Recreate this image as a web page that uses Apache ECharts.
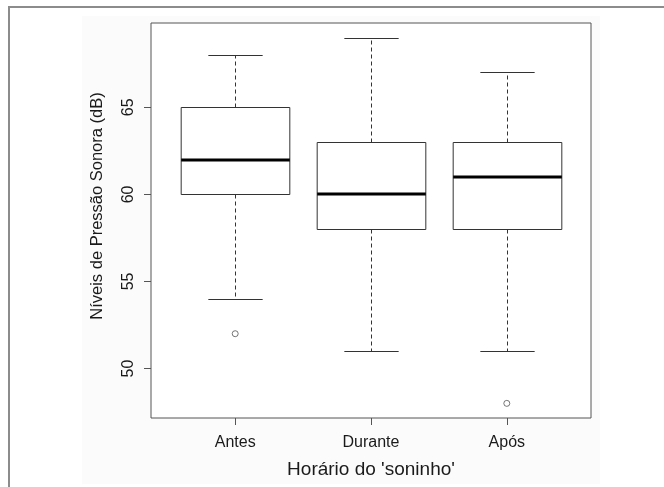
<!DOCTYPE html>
<html>
<head>
<meta charset="utf-8">
<script src="https://cdn.jsdelivr.net/npm/echarts@6/dist/echarts.min.js"></script>
<style>html,body{margin:0;padding:0;background:#fff;}#c{width:664px;height:487px;}</style>
</head>
<body>
<div id="c"></div>
<script>
const categories = ['Antes', 'Durante', 'Após'];
const whiskerLow = [54, 51, 51];
const q1 = [60, 58, 58];
const median = [62, 60, 61];
const q3 = [65, 63, 63];
const whiskerHigh = [68, 69, 67];
const outlierGroup = [1, 3];
const outlierValue = [52, 48];
const yTicks = [50, 55, 60, 65];
const xTitle = "Horário do 'soninho'";
const yTitle = 'Níveis de Pressão Sonora (dB)';

const FONT = '"Liberation Sans", Arial, sans-serif';
const LINE = '#333';

const boxData = categories.map((c, i) => [i + 1, whiskerLow[i], q1[i], median[i], q3[i], whiskerHigh[i]]);
const outData = outlierGroup.map((g, i) => [g, outlierValue[i]]);

function renderBox(params, api) {
  const x = api.value(0);
  const lo = api.coord([x, api.value(1)]);
  const b1 = api.coord([x, api.value(2)]);
  const md = api.coord([x, api.value(3)]);
  const b3 = api.coord([x, api.value(4)]);
  const hi = api.coord([x, api.value(5)]);
  const hw = api.size([0.4, 0])[0];
  const cw = api.size([0.2, 0])[0];
  const cx = Math.round(lo[0]) + 0.5;
  const r = v => Math.round(v) + 0.5;
  const thin = { stroke: LINE, lineWidth: 1, fill: null };
  return {
    type: 'group',
    children: [
      { type: 'line', shape: { x1: cx, y1: r(b3[1]), x2: cx, y2: r(hi[1]) }, style: { stroke: LINE, lineWidth: 1, lineDash: [4, 3] } },
      { type: 'line', shape: { x1: cx, y1: r(b1[1]), x2: cx, y2: r(lo[1]) }, style: { stroke: LINE, lineWidth: 1, lineDash: [4, 3] } },
      { type: 'line', shape: { x1: cx - cw, y1: r(hi[1]), x2: cx + cw, y2: r(hi[1]) }, style: thin },
      { type: 'line', shape: { x1: cx - cw, y1: r(lo[1]), x2: cx + cw, y2: r(lo[1]) }, style: thin },
      { type: 'rect', shape: { x: cx - hw, y: r(b3[1]), width: hw * 2, height: r(b1[1]) - r(b3[1]) }, style: { stroke: LINE, lineWidth: 1, fill: '#fff' } },
      { type: 'line', shape: { x1: cx - hw, y1: Math.round(md[1]), x2: cx + hw, y2: Math.round(md[1]) }, style: { stroke: '#000', lineWidth: 3 } }
    ]
  };
}

const chart = echarts.init(document.getElementById('c'), null, { renderer: 'canvas' });
chart.setOption({
  backgroundColor: '#fff',
  animation: false,
  graphic: [
    { type: 'rect', z: -10, shape: { x: 82, y: 16, width: 518, height: 468 }, style: { fill: '#fbfbfb' } },
    { type: 'rect', z: -9, shape: { x: 9, y: 7, width: 700, height: 520 }, style: { fill: null, stroke: '#8c8c8c', lineWidth: 2 } },
    { type: 'text', x: 97, y: 206, rotation: Math.PI / 2, style: { text: yTitle, font: '16.5px ' + FONT, fill: '#1a1a1a', align: 'center', verticalAlign: 'middle' } }
  ],
  grid: { left: 151, right: 73, top: 23, bottom: 69, show: true, borderColor: '#555', borderWidth: 1, backgroundColor: '#fff' },
  xAxis: {
    type: 'value', min: 0.38, max: 3.62,
    splitLine: { show: false },
    axisLine: { show: false },
    axisTick: { show: true, length: 7, lineStyle: { color: '#555' }, customValues: [1, 2, 3] },
    axisLabel: { customValues: [1, 2, 3], formatter: v => categories[Math.round(v) - 1] || '', margin: 17, color: '#1a1a1a', fontSize: 16, fontFamily: FONT },
    name: xTitle, nameLocation: 'middle', nameGap: 42,
    nameTextStyle: { fontSize: 19, color: '#1a1a1a', fontFamily: FONT }
  },
  yAxis: {
    type: 'value', min: 47.16, max: 69.84,
    splitLine: { show: false },
    axisLine: { show: false },
    axisTick: { show: true, length: 7, lineStyle: { color: '#555' }, customValues: yTicks },
    axisLabel: { customValues: yTicks, rotate: 90, margin: 14, color: '#1a1a1a', fontSize: 16, fontFamily: FONT }
  },
  series: [
    { type: 'custom', renderItem: renderBox, data: boxData, encode: { x: 0, y: [1, 2, 3, 4, 5] }, z: 3 },
    { type: 'scatter', data: outData, symbol: 'circle', symbolSize: 6, itemStyle: { color: '#fff', borderColor: '#555', borderWidth: 1 }, z: 4 }
  ]
});
</script>
</body>
</html>
